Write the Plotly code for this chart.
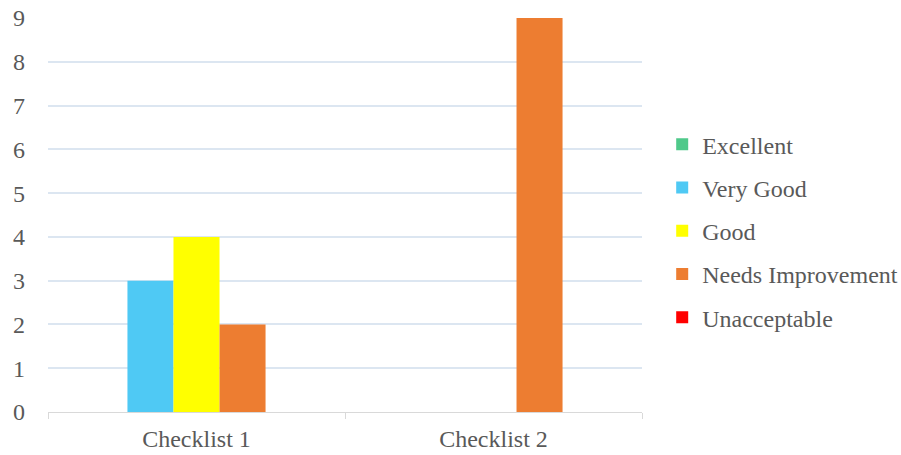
import plotly.graph_objects as go

categories = ["Checklist 1", "Checklist 2"]
series_names = ["Excellent", "Very Good", "Good", "Needs Improvement", "Unacceptable"]
excellent = [0, 0]
very_good = [3, 0]
good = [4, 0]
needs_improvement = [2, 9]
unacceptable = [0, 0]
colors = ["#4FC98A", "#4FC9F4", "#FFFF00", "#ED7D31", "#FF0000"]

values = [excellent, very_good, good, needs_improvement, unacceptable]

fig = go.Figure()
for name, vals, col in zip(series_names, values, colors):
    fig.add_trace(go.Bar(
        x=categories, y=vals, name=name,
        marker=dict(color=col, line=dict(width=0)),
        legendgroup=name,
    ))

font_family = "Liberation Serif"
fig.update_layout(
    width=901, height=455,
    margin=dict(l=48, r=259, t=18, b=43, autoexpand=False),
    paper_bgcolor="white", plot_bgcolor="white",
    barmode="group", bargap=0.225, bargroupgap=0,
    font=dict(family=font_family, size=24, color="#595959"),
    legend=dict(
        x=1.034, xanchor="left", y=0.46, yanchor="middle",
        font=dict(family=font_family, size=24, color="#595959"),
        tracegroupgap=9, itemwidth=30,
        bgcolor="rgba(0,0,0,0)",
    ),
    xaxis=dict(
        automargin=False,
        showline=True, linecolor="#D9D9D9", linewidth=1,
        ticks="outside", tickson="boundaries", ticklen=6, tickcolor="#D9D9D9",
        showgrid=False,
        tickfont=dict(family=font_family, size=24, color="#595959"),
        ticklabelstandoff=5,
    ),
    yaxis=dict(
        automargin=False,
        range=[0, 9], dtick=1, tick0=0,
        showgrid=True, gridcolor="#DCE6F1", gridwidth=1.5,
        zeroline=False, showline=False,
        tickfont=dict(family=font_family, size=24, color="#595959"),
        ticklabelstandoff=22,
    ),
)

fig.write_html("out.html")
